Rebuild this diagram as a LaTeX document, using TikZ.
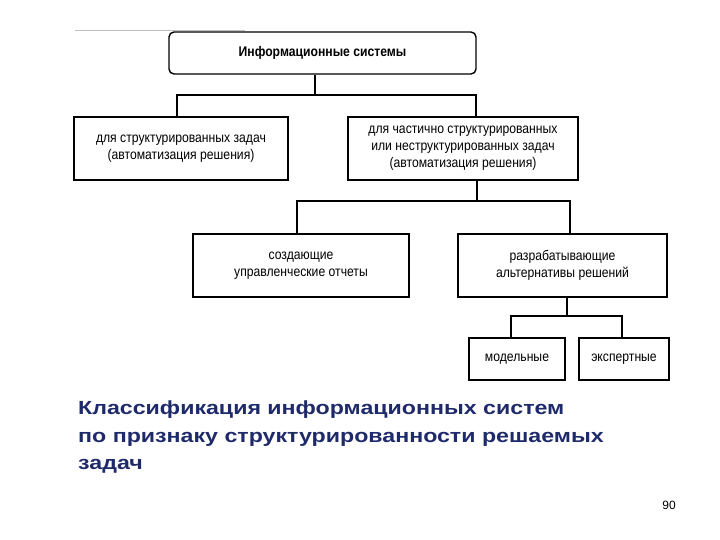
\documentclass[tikz,border=0pt]{standalone}
\usepackage{fontspec}
\setmainfont{Liberation Sans}
\newfontfamily\narrowf[FakeStretch=0.87]{Liberation Sans}
\newfontfamily\widef[FakeStretch=1.22]{Liberation Sans}
\definecolor{cap}{HTML}{1F2A6B}
\begin{document}
\begin{tikzpicture}[x=1pt,y=-1pt,
  bx/.style={draw,line width=1.4pt,align=center,font=\narrowf\fontsize{14}{17}\selectfont,inner sep=0pt},
  ln/.style={line width=1.1pt}]
\useasboundingbox (0,0) rectangle (720,540);
\fill[white] (0,0) rectangle (720,540);
\draw[gray!50,line width=0.6pt] (75,30) -- (245,30);
\node[bx,rounded corners=5pt,minimum width=307pt,minimum height=42pt,font=\narrowf\fontsize{14}{17}\selectfont\bfseries] (top) at (322.5,53) {Информационные системы};
\node[bx,minimum width=214pt,minimum height=63pt] (l) at (181,148.5) {для структурированных задач\\(автоматизация решения)};
\node[bx,minimum width=230pt,minimum height=63pt] (r) at (463,148.5) {для частично структурированных\\или неструктурированных задач\\(автоматизация решения)};
\node[bx,minimum width=216pt,minimum height=63pt] (c) at (301,265.5) {создающие\\управленческие отчеты};
\node[bx,minimum width=209pt,minimum height=63pt] (d) at (562.5,265.5) {разрабатывающие\\альтернативы решений};
\node[bx,minimum width=96pt,minimum height=42pt] (m) at (517,359) {модельные};
\node[bx,minimum width=90pt,minimum height=42pt] (e) at (624,359) {экспертные};
\coordinate (j1) at (315,95);
\coordinate (j2) at (477,201);
\coordinate (j3) at (567,316);
\draw[ln] (top.south -| j1) -- (j1);
\draw[ln] (l.north -| 177,0) |- (j1) -| (r.north -| 476,0);
\draw[ln] (r.south -| j2) -- (j2);
\draw[ln] (c.north -| 297,0) |- (j2) -| (d.north -| 570,0);
\draw[ln] (d.south -| j3) -- (j3);
\draw[ln] (m.north -| 511,0) |- (j3) -| (e.north -| 622,0);
\node[anchor=north west,align=left,text=cap,font=\widef\bfseries\fontsize{19}{27.5}\selectfont,inner sep=0pt] (cp) at (78,401) {Классификация информационных систем\\по признаку структурированности решаемых\\задач};
\node[font=\fontsize{12}{14}\selectfont,inner sep=0pt] (pg) at (669,505) {90};
\end{tikzpicture}
\end{document}
